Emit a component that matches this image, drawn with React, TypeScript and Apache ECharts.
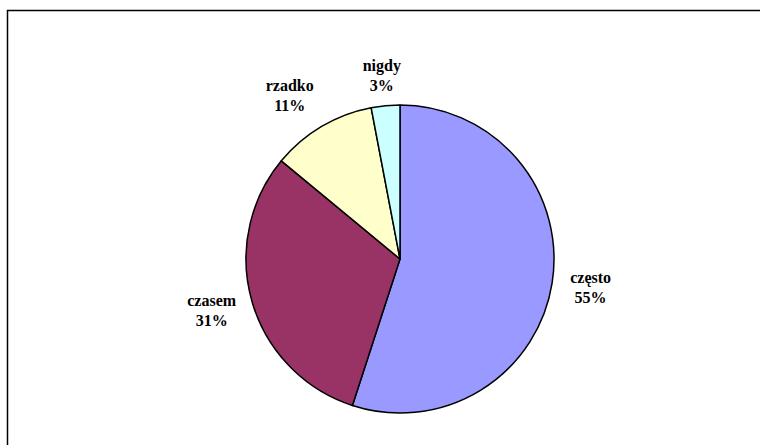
import React, { useEffect, useRef } from "react";
import * as echarts from "echarts";

const categories = ["często", "czasem", "rzadko", "nigdy"];
const values = [55, 31, 11, 3];
const colors = ["#9999FF", "#993366", "#FFFFCC", "#CCFFFF"];

// small label nudges (Excel-like label placement)
const labelNudge: Array<[number, number]> = [
  [0, -2],
  [-3, -2],
  [-12, 3],
  [0, 9],
];

export default function App() {
  const ref = useRef<HTMLDivElement>(null);
  useEffect(() => {
    if (!ref.current) return;
    const chart = echarts.init(ref.current, null, { renderer: "svg" });
    const data = categories.map((name, i) => ({
      name,
      value: values[i],
      itemStyle: { color: colors[i] },
    }));
    const labelFont = {
      fontFamily: "'Liberation Serif', 'Times New Roman', serif",
      fontWeight: "bold" as const,
      fontSize: 16,
      color: "#000",
      lineHeight: 20,
    };
    chart.setOption({
      animation: false,
      backgroundColor: "#fff",
      graphic: [
        {
          type: "rect",
          shape: { x: 7.5, y: 10.5, width: 800, height: 500 },
          style: { fill: "none", stroke: "#000", lineWidth: 1.5 },
          silent: true,
        },
      ],
      series: [
        {
          type: "pie",
          center: [400, 259],
          radius: 154,
          startAngle: 90,
          clockwise: true,
          data,
          label: { show: false },
          labelLine: { show: false },
          itemStyle: { borderColor: "#000", borderWidth: 1.5 },
          emphasis: { disabled: true },
          silent: true,
        },
        {
          type: "pie",
          center: [400, 259],
          radius: [170, 210],
          startAngle: 90,
          clockwise: true,
          data: categories.map((name, i) => ({ name, value: values[i] })),
          itemStyle: { color: "rgba(0,0,0,0)", borderWidth: 0 },
          label: {
            show: true,
            position: "inside",
            formatter: "{b}\n{d}%",
            ...labelFont,
          },
          labelLayout: (params: any) => {
            const n = labelNudge[params.dataIndex] || [0, 0];
            return { dx: n[0], dy: n[1] };
          },
          labelLine: { show: false },
          emphasis: { disabled: true },
          silent: true,
        },
      ],
    });
    return () => chart.dispose();
  }, []);
  return (
    <div
      ref={ref}
      style={{ position: "absolute", left: 0, top: 0, width: 760, height: 445 }}
    />
  );
}
